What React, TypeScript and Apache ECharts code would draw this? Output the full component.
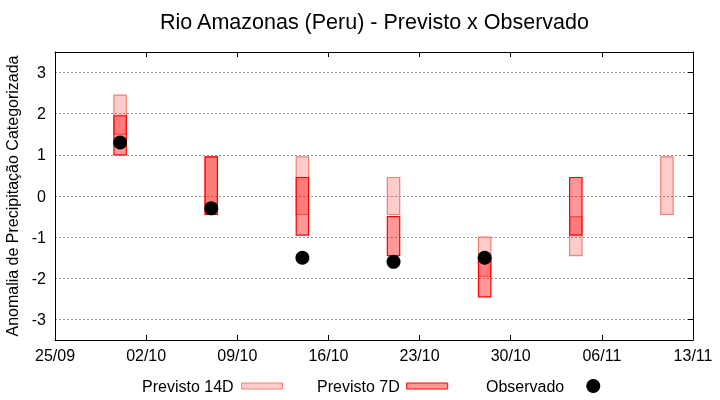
import React, { useEffect, useRef } from "react";
import * as echarts from "echarts";

const YEAR = 2023;
const startDate = "25/09";
const tickLabels = ["25/09", "02/10", "09/10", "16/10", "23/10", "30/10", "06/11", "13/11"];
const dates = ["30/09", "07/10", "14/10", "21/10", "28/10", "04/11", "11/11"];
const prev14Low = [1.5, -0.45, -0.45, -0.45, -1.95, -1.45, -0.45];
const prev14High = [2.45, 0.95, 0.95, 0.45, -1.0, -0.5, 0.95];
const prev7Low: (number | null)[] = [1.0, -0.45, -0.95, -1.45, -2.45, -0.95, null];
const prev7High: (number | null)[] = [1.95, 0.95, 0.45, -0.5, -1.5, 0.45, null];
const observed: (number | null)[] = [1.3, -0.3, -1.5, -1.6, -1.5, null, null];

const parse = (s: string) => {
  const [d, m] = s.split("/").map(Number);
  return Date.UTC(YEAR, m - 1, d);
};
const DAY = 86400000;
const dayOf = (s: string) => Math.round((parse(s) - parse(startDate)) / DAY);

const FONT = "Liberation Sans";
const BAR_W = 0.95;

function makeRender(fill: string, stroke: string) {
  return (params: any, api: any) => {
    const x = api.value(0);
    const lo = api.value(1);
    const hi = api.value(2);
    const p1 = api.coord([x - BAR_W / 2, hi]);
    const p2 = api.coord([x + BAR_W / 2, lo]);
    return {
      type: "rect",
      shape: { x: p1[0], y: p1[1], width: p2[0] - p1[0], height: p2[1] - p1[1] },
      style: { fill, stroke, lineWidth: 1.2 },
    };
  };
}

export default function App() {
  const ref = useRef<HTMLDivElement>(null);
  useEffect(() => {
    if (!ref.current) return;
    const chart = echarts.init(ref.current, undefined, { renderer: "svg" });
    const data14 = dates.map((d, i) => [dayOf(d), prev14Low[i], prev14High[i]]);
    const data7 = dates
      .map((d, i) => [dayOf(d), prev7Low[i], prev7High[i]])
      .filter((r) => r[1] !== null);
    const dataObs = dates
      .map((d, i) => [dayOf(d), observed[i]])
      .filter((r) => r[1] !== null);
    const fill14 = "rgba(255,0,0,0.2)";
    const stroke14 = "#f08070";
    const fill7 = "rgba(255,0,0,0.4)";
    const stroke7 = "#ff0000";
    const maxDay = (tickLabels.length - 1) * 7;
    const tickStyle = { show: true, inside: true, length: 5, lineStyle: { color: "#000" } };
    const axisLine = { show: true, onZero: false, lineStyle: { color: "#000", width: 1 } };
    const legendText = (padRight: number) => ({
      fontFamily: FONT, fontSize: 16, color: "#000", padding: [0, padRight, 0, 0],
    });
    chart.setOption({
      animation: false,
      title: {
        text: "Rio Amazonas (Peru) - Previsto x Observado",
        left: 155,
        top: 6,
        textStyle: { fontFamily: FONT, fontSize: 21.5, fontWeight: "normal", color: "#000" },
      },
      grid: { left: 55, right: 27, top: 52, bottom: 60, containLabel: false, outerBoundsMode: "none" },
      legend: [
        {
          data: [{ name: "Previsto 14D", icon: "rect", itemStyle: { color: fill14, borderColor: stroke14, borderWidth: 1 } }],
          left: 142, top: 378, align: "right", itemWidth: 41, itemHeight: 6, padding: 0,
          textStyle: legendText(3),
        },
        {
          data: [{ name: "Previsto 7D", icon: "rect", itemStyle: { color: fill7, borderColor: stroke7, borderWidth: 1 } }],
          left: 317, top: 378, align: "right", itemWidth: 41, itemHeight: 6, padding: 0,
          textStyle: legendText(2),
        },
        {
          data: [{ name: "Observado", icon: "circle", itemStyle: { color: "#000" } }],
          left: 486, top: 378, align: "right", itemWidth: 14, itemHeight: 14, padding: 0,
          textStyle: legendText(17),
        },
      ],
      xAxis: [
        {
          type: "value", min: 0, max: maxDay, interval: 7, position: "bottom",
          axisLine, axisTick: tickStyle, splitLine: { show: false },
          axisLabel: {
            fontFamily: FONT, fontSize: 16, color: "#000", margin: 7,
            formatter: (v: number) => tickLabels[Math.round(v / 7)] ?? "",
          },
        },
        {
          type: "value", min: 0, max: maxDay, interval: 7, position: "top",
          axisLine, axisTick: tickStyle, splitLine: { show: false }, axisLabel: { show: false },
        },
      ],
      yAxis: [
        {
          type: "value", min: -3.5, max: 3.5, splitNumber: 7,
          name: "Anomalia de Precipitação Categorizada", nameLocation: "middle", nameGap: 35,
          nameMoveOverlap: false,
          nameTextStyle: { fontFamily: FONT, fontSize: 16, color: "#000" },
          axisLine, axisTick: { show: false },
          axisLabel: { fontFamily: FONT, fontSize: 16, color: "#000", margin: 9, showMinLabel: false, showMaxLabel: false },
          splitLine: { show: true, lineStyle: { color: "#999", type: [2, 2], width: 1 } },
        },
        {
          type: "value", min: -3.5, max: 3.5, splitNumber: 7, position: "right",
          axisLine, axisTick: tickStyle, axisLabel: { show: false }, splitLine: { show: false },
        },
      ],
      series: [
        {
          name: "Previsto 14D", type: "custom", data: data14, xAxisIndex: 0, yAxisIndex: 0,
          renderItem: makeRender(fill14, stroke14),
          itemStyle: { color: fill14, borderColor: stroke14 },
          encode: { x: 0, y: [1, 2] },
        },
        {
          name: "Previsto 7D", type: "custom", data: data7, xAxisIndex: 0, yAxisIndex: 0,
          renderItem: makeRender(fill7, stroke7),
          itemStyle: { color: fill7, borderColor: stroke7 },
          encode: { x: 0, y: [1, 2] },
        },
        {
          name: "Observado", type: "scatter", data: dataObs, symbolSize: 14,
          itemStyle: { color: "#000", opacity: 1 }, z: 5,
        },
      ],
    });
    return () => chart.dispose();
  }, []);
  return <div ref={ref} style={{ position: "fixed", left: 0, top: 0, width: 720, height: 400 }} />;
}
